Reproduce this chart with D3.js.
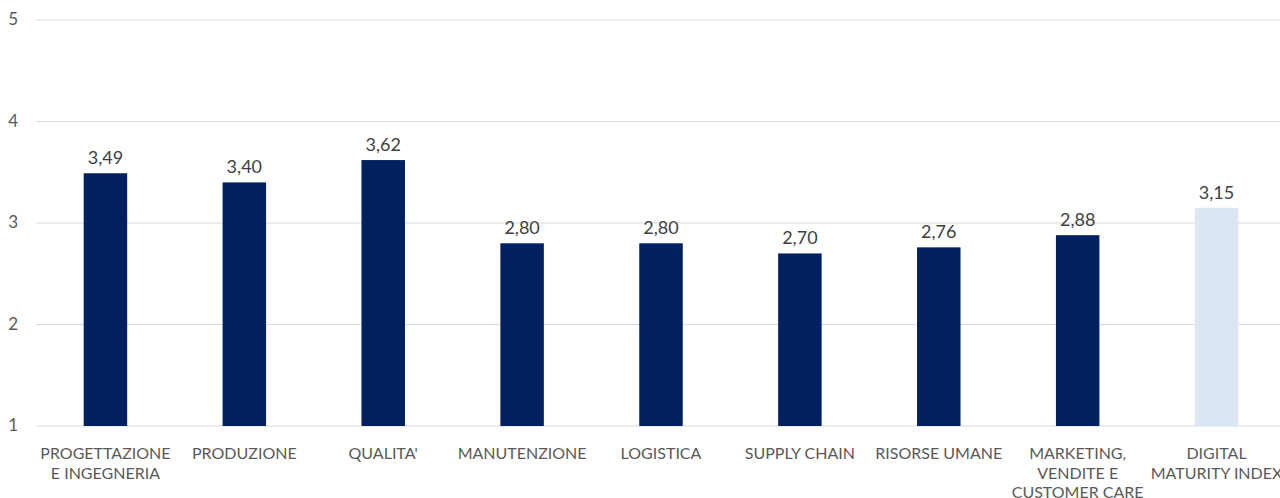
<!DOCTYPE html>
<html>
<head>
<meta charset="utf-8">
<script src="https://cdn.jsdelivr.net/npm/d3@7"></script>
<style>
  html, body { margin: 0; padding: 0; background: #fff; }
  svg { display: block; font-family: "Lato", "Open Sans", sans-serif; }
</style>
</head>
<body>
<svg id="chart" width="1280" height="498"></svg>
<script>
// Digital maturity score per business area (scale 1–5)
const categories = [
  ["PROGETTAZIONE", "E INGEGNERIA"],
  ["PRODUZIONE"],
  ["QUALITA'"],
  ["MANUTENZIONE"],
  ["LOGISTICA"],
  ["SUPPLY CHAIN"],
  ["RISORSE UMANE"],
  ["MARKETING,", "VENDITE E", "CUSTOMER CARE"],
  ["DIGITAL", "MATURITY INDEX"]
];
const values = [3.49, 3.40, 3.62, 2.80, 2.80, 2.70, 2.76, 2.88, 3.15];
const highlighted = [false, false, false, false, false, false, false, false, true];
const yTicks = [1, 2, 3, 4, 5];

const svg = d3.select("#chart");
const plotLeft = 36, plotRight = 1286, plotTop = 20, plotBottom = 426;

const x = d3.scaleBand()
  .domain(d3.range(categories.length))
  .range([plotLeft, plotRight])
  .paddingInner(0.687)
  .paddingOuter(0.3435);

const y = d3.scaleLinear().domain([1, 5]).range([plotBottom, plotTop]);

const fmt = v => v.toFixed(2).replace(".", ",");

// horizontal gridlines
svg.append("g")
  .selectAll("line")
  .data(yTicks)
  .join("line")
  .attr("x1", plotLeft).attr("x2", 1280)
  .attr("y1", d => y(d)).attr("y2", d => y(d))
  .attr("stroke", "#D9D9D9").attr("stroke-width", 1);

// y axis labels
svg.append("g")
  .selectAll("text")
  .data(yTicks)
  .join("text")
  .attr("x", 18).attr("y", d => y(d) + 5)
  .attr("text-anchor", "end")
  .attr("font-size", 17)
  .attr("fill", "#595959")
  .text(d => d);

// bars
svg.append("g")
  .selectAll("rect")
  .data(values)
  .join("rect")
  .attr("x", (d, i) => x(i))
  .attr("width", x.bandwidth())
  .attr("y", d => y(d))
  .attr("height", d => y(1) - y(d))
  .attr("fill", (d, i) => highlighted[i] ? "#DCE6F2" : "#002060");

// value labels
svg.append("g")
  .selectAll("text")
  .data(values)
  .join("text")
  .attr("x", (d, i) => x(i) + x.bandwidth() / 2)
  .attr("y", d => y(d) - 9)
  .attr("text-anchor", "middle")
  .attr("font-size", 18)
  .attr("fill", "#404040")
  .text(fmt);

// category labels
const cat = svg.append("g")
  .selectAll("text")
  .data(categories)
  .join("text")
  .attr("x", (d, i) => x(i) + x.bandwidth() / 2)
  .attr("y", 459)
  .attr("text-anchor", "middle")
  .attr("font-size", 16)
  .attr("fill", "#595959");
cat.selectAll("tspan")
  .data(d => d)
  .join("tspan")
  .attr("x", function () { return d3.select(this.parentNode).attr("x"); })
  .attr("dy", (d, i) => i === 0 ? 0 : 19.5)
  .text(d => d);
</script>
</body>
</html>
